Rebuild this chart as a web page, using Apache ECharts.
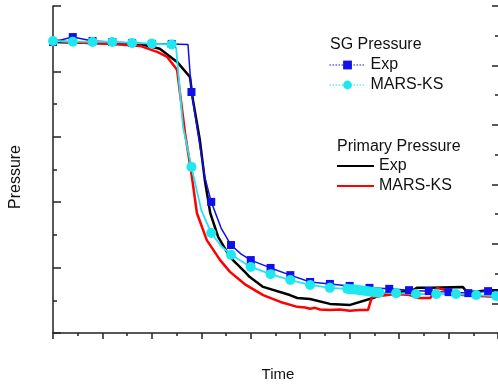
<!DOCTYPE html>
<html>
<head>
<meta charset="utf-8">
<script src="https://cdn.jsdelivr.net/npm/echarts@6/dist/echarts.min.js"></script>
<style>html,body{margin:0;padding:0;background:#fff}#c{width:498px;height:387px}</style>
</head>
<body>
<div id="c"></div>
<script>
// ---- data (Time, Pressure) ----
var sgExpMarks = [[0.0,8.90],[0.4,9.05],[0.8,8.93],[1.2,8.90],[1.6,8.87],[2.0,8.84],[2.4,8.84],[2.8,7.37],[3.2,4.01],[3.6,2.69],[4.0,2.23],[4.4,1.99],[4.8,1.77],[5.2,1.56],[5.6,1.50],[6.0,1.44],[6.4,1.38],[6.8,1.35],[7.2,1.31],[7.6,1.28],[8.0,1.25],[8.4,1.22],[8.8,1.28]];
var sgExpExtra = [[2.73,8.82],[3.07,4.77],[3.4,3.21],[3.8,2.42],[9.0,1.28]];
var sgMarsMarks = [[0.0,8.93],[0.4,8.91],[0.8,8.90],[1.2,8.90],[1.6,8.87],[2.0,8.85],[2.4,8.82],[2.8,5.08],[3.2,3.06],[3.6,2.39],[4.0,2.02],[4.4,1.80],[4.8,1.62],[5.2,1.47],[5.6,1.38],[5.95,1.35],[6.0,1.34],[6.05,1.34],[6.1,1.33],[6.15,1.32],[6.2,1.31],[6.25,1.30],[6.3,1.29],[6.35,1.28],[6.4,1.27],[6.45,1.26],[6.5,1.25],[6.55,1.24],[6.6,1.23],[6.94,1.22],[7.34,1.19],[7.75,1.19],[8.15,1.19],[8.56,1.16],[8.96,1.13]];
var sgMarsExtra = [[2.49,8.72],[2.63,6.3],[3.0,3.75],[3.4,2.66]];
var priExp = [[0,8.90],[0.8,8.87],[1.62,8.84],[1.76,8.84],[2.16,8.69],[2.51,8.29],[2.77,7.83],[2.83,7.13],[2.97,5.90],[3.07,4.68],[3.18,3.67],[3.34,2.94],[3.58,2.32],[3.88,1.87],[3.98,1.71],[4.25,1.41],[4.79,1.16],[4.94,1.07],[5.2,1.04],[5.6,0.89],[6.01,0.86],[6.47,1.07],[6.67,1.19],[7.28,1.31],[7.36,1.38],[7.63,1.38],[8.29,1.41],[8.37,1.25],[8.84,1.31],[9.0,1.31]];
var priMars = [[0,8.96],[0.28,8.90],[1.21,8.84],[1.76,8.78],[2.12,8.59],[2.31,8.44],[2.47,8.13],[2.51,8.04],[2.67,6.12],[2.81,4.77],[2.91,3.67],[3.11,2.84],[3.38,2.23],[3.58,1.87],[3.9,1.47],[4.25,1.16],[4.6,0.95],[4.94,0.80],[5.1,0.78],[5.2,0.74],[5.3,0.77],[5.4,0.72],[5.6,0.70],[5.8,0.72],[6.0,0.68],[6.2,0.70],[6.37,0.70],[6.41,0.73],[6.45,1.10],[6.61,1.13],[6.92,1.19],[7.22,1.16],[7.38,1.07],[7.63,1.07],[7.77,1.38],[7.81,1.41],[7.93,1.31],[8.29,1.16],[9.0,1.10]];
var rightMajorTicks = [0.5,1.5,2.5,3.5,4.5,5.5];
var rightMinorTicks = [1,2,3,4,5];

function merge(marks, extra, sym) {
  var a = marks.map(function(p){return {value:p, symbol:sym};})
    .concat(extra.map(function(p){return {value:p, symbol:'none'};}));
  a.sort(function(u,v){return u.value[0]-v.value[0];});
  return a;
}

var FONT = '"Liberation Sans", Arial, sans-serif';
var AX = '#222';
var chart = echarts.init(document.getElementById('c'));
chart.setOption({
  animation: false,
  backgroundColor: '#fff',
  grid: {left: 53, right: 0, top: 6, bottom: 54},
  xAxis: {
    type: 'value', min: 0, max: 9, interval: 1,
    axisLine: {lineStyle: {color: AX, width: 1.5}},
    axisTick: {inside: false, length: 6, lineStyle: {color: AX, width: 1.5}},
    minorTick: {show: true, splitNumber: 2, length: 3, lineStyle: {color: AX, width: 1.5}},
    axisLabel: {show: false}, splitLine: {show: false}
  },
  yAxis: [{
    type: 'value', position: 'left', min: 0, max: 10, interval: 2,
    axisLine: {show: true, lineStyle: {color: AX, width: 1.5}},
    axisTick: {inside: true, length: 8, lineStyle: {color: AX, width: 1.5}},
    minorTick: {show: true, splitNumber: 2, length: 4, lineStyle: {color: AX, width: 1.5}},
    axisLabel: {show: false}, splitLine: {show: false}
  }, {
    type: 'value', position: 'right', min: 0, max: 5.5,
    axisLine: {show: false},
    axisTick: {show: true, inside: true, length: 6, customValues: rightMajorTicks, lineStyle: {color: AX, width: 1.5}},
    axisLabel: {show: false}, splitLine: {show: false}
  }, {
    type: 'value', position: 'right', min: 0, max: 5.5,
    axisLine: {show: false},
    axisTick: {show: true, inside: true, length: 3, customValues: rightMinorTicks, lineStyle: {color: AX, width: 1.5}},
    axisLabel: {show: false}, splitLine: {show: false}
  }],
  legend: [{
    orient: 'vertical', left: 329, top: 55, padding: 0, itemGap: 0,
    itemWidth: 36, itemHeight: 11,
    lineStyle: {type: [1.5, 1.5], width: 1},
    textStyle: {fontFamily: FONT, fontSize: 16, lineHeight: 20, color: '#111'},
    formatter: function(n){return n.replace('SG ','');},
    data: ['SG Exp', 'SG MARS-KS']
  }, {
    orient: 'vertical', left: 336, top: 156, padding: 0, itemGap: 0,
    itemWidth: 37, itemHeight: 11,
    textStyle: {fontFamily: FONT, fontSize: 16, lineHeight: 20, color: '#111'},
    formatter: function(n){return n.replace('Primary ','');},
    data: [{name: 'Primary Exp', itemStyle: {opacity: 0}}, {name: 'Primary MARS-KS', itemStyle: {opacity: 0}}]
  }],
  graphic: [
    {type: 'text', left: 330, top: 37, style: {text: 'SG Pressure', font: '16px ' + FONT, fill: '#111'}},
    {type: 'text', left: 337, top: 139, style: {text: 'Primary Pressure', font: '16px ' + FONT, fill: '#111'}},
    {type: 'text', x: 16, y: 177, rotation: Math.PI/2, style: {text: 'Pressure', font: '16px ' + FONT, fill: '#111', align: 'center', verticalAlign: 'middle'}},
    {type: 'text', x: 278, y: 375, style: {text: 'Time', font: '15px ' + FONT, fill: '#111', align: 'center', verticalAlign: 'middle'}}
  ],
  series: [{
    name: 'Primary Exp', type: 'line', symbol: 'none', data: priExp,
    lineStyle: {color: '#000', width: 2.5}, itemStyle: {color: '#000'}
  }, {
    name: 'Primary MARS-KS', type: 'line', symbol: 'none', data: priMars,
    lineStyle: {color: '#ff0000', width: 2.5}, itemStyle: {color: '#ff0000'}
  }, {
    name: 'SG Exp', type: 'line', symbol: 'rect', symbolSize: 8, showAllSymbol: true,
    data: merge(sgExpMarks, sgExpExtra, 'rect'),
    lineStyle: {color: '#1010ee', width: 1.5}, itemStyle: {color: '#1010ee'}
  }, {
    name: 'SG MARS-KS', type: 'line', symbol: 'circle', symbolSize: 10, showAllSymbol: true,
    data: merge(sgMarsMarks, sgMarsExtra, 'circle'),
    lineStyle: {color: '#1ee8ee', width: 1.8}, itemStyle: {color: '#1ee8ee'}
  }]
});
</script>
</body>
</html>
